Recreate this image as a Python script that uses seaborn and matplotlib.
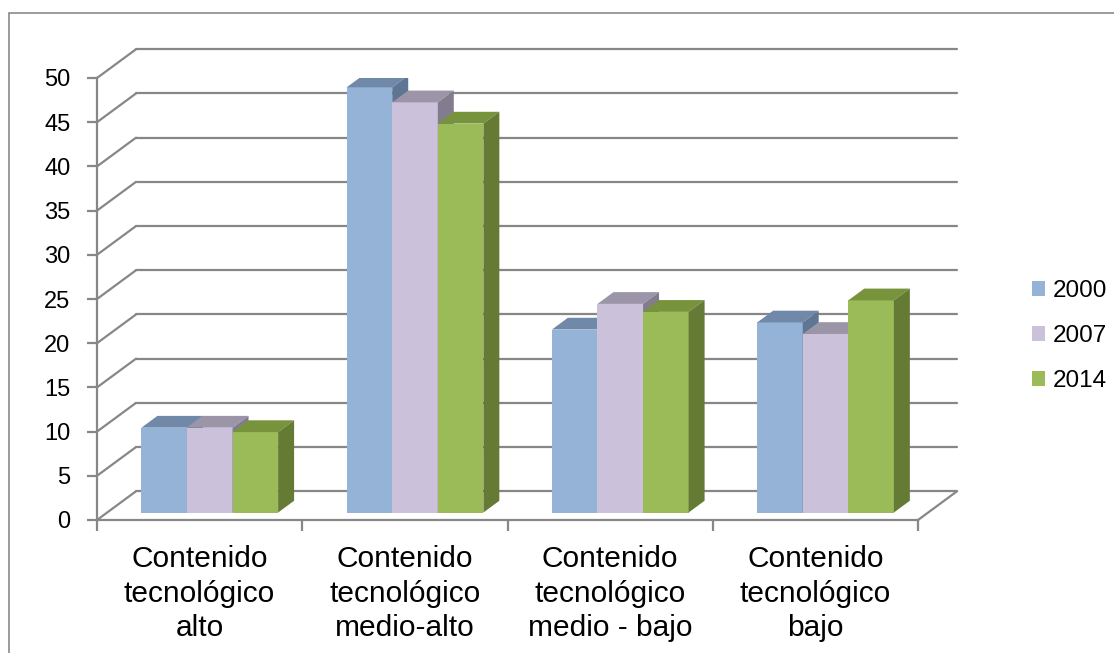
import pandas as pd
import matplotlib.pyplot as plt
import seaborn as sns
from matplotlib.patches import Polygon, Rectangle

# --- data ---
categories = ["Contenido\ntecnológico\nalto", "Contenido\ntecnológico\nmedio-alto",
              "Contenido\ntecnológico\nmedio - bajo", "Contenido\ntecnológico\nbajo"]
years = ["2000", "2007", "2014"]
v2000 = [9.6, 48.1, 20.7, 21.5]
v2007 = [9.6, 46.4, 23.6, 20.2]
v2014 = [9.1, 44.0, 22.7, 24.0]

front_colors = ["#95B3D7", "#CCC1DA", "#9BBB59"]
top_colors = ["#7189A8", "#9C94A7", "#77933C"]
side_colors = ["#5E7594", "#837C8E", "#657A35"]
grid_col = "#878787"

df = pd.DataFrame({
    "cat": categories * 3,
    "year": [y for y in years for _ in categories],
    "val": v2000 + v2007 + v2014,
})

sns.set_theme(style="white")
plt.rcParams["font.family"] = ["Liberation Sans", "DejaVu Sans"]
plt.rcParams["text.color"] = "black"
plt.rcParams["xtick.labelcolor"] = "black"
plt.rcParams["ytick.labelcolor"] = "black"

W, H = 1114, 653
fig = plt.figure(figsize=(W / 100, H / 100), dpi=100)
ax = fig.add_axes([97 / W, 1 - 520 / H, (918 - 97) / W, (520 - 78) / H])

sns.barplot(data=df, x="cat", y="val", hue="year", palette=front_colors,
            saturation=1, width=0.666, dodge=True, legend=True, ax=ax,
            linewidth=0, zorder=3)

ax.set_xlim(-0.5, 3.5)
ax.set_ylim(0, 50)

# depth of the 3D box (data units)
DX = 0.19
DY = 3.25
OFF = 0.26   # bars sit a bit behind the front plane
DEP = 0.41   # bar depth

# --- walls / floor gridlines ---
lw = 1.6
for v in range(0, 51, 5):
    ax.plot([-0.5, -0.5 + DX], [v, v + DY], color=grid_col, lw=lw, clip_on=False, zorder=1)
    ax.plot([-0.5 + DX, 3.5 + DX], [v + DY, v + DY], color=grid_col, lw=lw, clip_on=False, zorder=1)
ax.plot([3.5, 3.5 + DX], [0, DY], color=grid_col, lw=lw, clip_on=False, zorder=1)

# --- 3D faces on the bars ---
bars = [p for p in ax.patches if p.get_width() > 0]
bars_sorted = sorted(bars, key=lambda p: p.get_x())
for rank, p in enumerate(bars_sorted):
    ci = front_colors.index(
        "#%02X%02X%02X" % tuple(int(round(c * 255)) for c in p.get_facecolor()[:3]))
    x0 = p.get_x() + OFF * DX
    y0 = OFF * DY
    w, h = p.get_width(), p.get_height()
    p.set_x(x0)
    p.set_y(y0)
    z = 3 + rank * 0.1
    p.set_zorder(z)
    dx, dy = DEP * DX, DEP * DY
    top = Polygon([(x0, y0 + h), (x0 + w, y0 + h), (x0 + w + dx, y0 + h + dy), (x0 + dx, y0 + h + dy)],
                  closed=True, facecolor=top_colors[ci], edgecolor="none", zorder=z)
    side = Polygon([(x0 + w, y0), (x0 + w, y0 + h), (x0 + w + dx, y0 + h + dy), (x0 + w + dx, y0 + dy)],
                   closed=True, facecolor=side_colors[ci], edgecolor="none", zorder=z)
    ax.add_patch(top)
    ax.add_patch(side)

# --- axes styling ---
for s in ["top", "right"]:
    ax.spines[s].set_visible(False)
for s in ["left", "bottom"]:
    ax.spines[s].set_color(grid_col)
    ax.spines[s].set_linewidth(lw)
    ax.spines[s].set_zorder(2)

ax.set_yticks(range(0, 51, 5))
ax.tick_params(axis="y", direction="out", length=7, width=lw, color=grid_col,
               labelsize=17, pad=12, left=True, labelcolor="black")
ax.set_xticks(range(4))
ax.set_xticklabels(categories, fontsize=21.5, linespacing=1.3, color="black")
ax.set_xticks([-0.5, 0.5, 1.5, 2.5, 3.5], minor=True)
ax.tick_params(axis="x", which="major", length=0, pad=18)
ax.tick_params(axis="x", which="minor", direction="out", length=8, width=lw,
               color=grid_col, bottom=True)
ax.set_xlabel("")
ax.set_ylabel("")
ax.patch.set_alpha(0)

# legend
handles, labels = ax.get_legend_handles_labels()
leg = ax.legend(handles, labels, loc="center left", bbox_to_anchor=(1010 / W, 1 - 336 / H),
                bbox_transform=fig.transFigure, frameon=False, fontsize=17.5,
                handlelength=0.55, handleheight=0.55, handletextpad=0.3, labelspacing=0.95)
for t in leg.get_texts():
    t.set_color("black")

# outer border
fig.add_artist(Rectangle((9 / W, -0.1), 1.2, 1 - 13 / H + 0.1, transform=fig.transFigure,
                         fill=False, edgecolor="#8A8A8A", lw=1.2))

plt.savefig("out.png", dpi=100)
